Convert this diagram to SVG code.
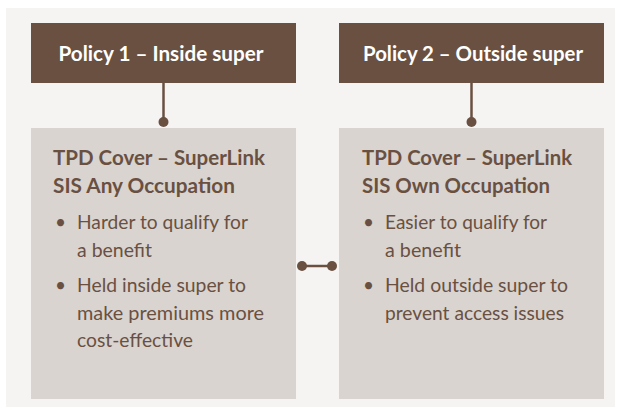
<svg xmlns="http://www.w3.org/2000/svg" width="621" height="408" viewBox="0 0 621 408">
<style>
.hdr{fill:#6a5041}
.box{fill:#d9d4d0}
.ht{font-family:Lato,"Open Sans",sans-serif;font-weight:bold;font-size:20px;fill:#ffffff;text-anchor:middle}
.tt{font-family:Lato,"Open Sans",sans-serif;font-weight:bold;font-size:20px;fill:#6a5041}
.bt{font-family:Lato,"Open Sans",sans-serif;font-size:19px;fill:#6a5041}
.con{stroke:#6a5041;stroke-width:2.5;fill:none}
.dot{fill:#6a5041}
</style>
<rect x="6" y="8" width="609" height="399" fill="#f5f4f2"/>
<g id="policy1">
<rect class="hdr" x="31" y="23" width="265" height="60"/>
<text class="ht" x="161" y="61" textLength="205" lengthAdjust="spacingAndGlyphs">Policy 1 – Inside super</text>
</g>
<g id="policy2">
<rect class="hdr" x="339" y="23" width="265" height="60"/>
<text class="ht" x="473" y="61" textLength="220" lengthAdjust="spacingAndGlyphs">Policy 2 – Outside super</text>
</g>
<g id="cover1">
<rect class="box" x="31" y="128" width="265" height="271"/>
<text class="tt" x="53" y="165" textLength="212" lengthAdjust="spacingAndGlyphs">TPD Cover – SuperLink</text>
<text class="tt" x="53" y="193" textLength="182" lengthAdjust="spacingAndGlyphs">SIS Any Occupation</text>
<text class="bt" x="55" y="229">•</text>
<text class="bt" x="77" y="229" textLength="171" lengthAdjust="spacingAndGlyphs">Harder to qualify for</text>
<text class="bt" x="77" y="256.5" textLength="75" lengthAdjust="spacingAndGlyphs">a benefit</text>
<text class="bt" x="55" y="292">•</text>
<text class="bt" x="77" y="292" textLength="169" lengthAdjust="spacingAndGlyphs">Held inside super to</text>
<text class="bt" x="77" y="320" textLength="187" lengthAdjust="spacingAndGlyphs">make premiums more</text>
<text class="bt" x="77" y="347" textLength="116" lengthAdjust="spacingAndGlyphs">cost-effective</text>
</g>
<g id="cover2">
<rect class="box" x="339" y="128" width="265" height="271"/>
<text class="tt" x="362" y="165" textLength="210" lengthAdjust="spacingAndGlyphs">TPD Cover – SuperLink</text>
<text class="tt" x="362" y="193" textLength="188" lengthAdjust="spacingAndGlyphs">SIS Own Occupation</text>
<text class="bt" x="363" y="229">•</text>
<text class="bt" x="385" y="229" textLength="162" lengthAdjust="spacingAndGlyphs">Easier to qualify for</text>
<text class="bt" x="385" y="256.5" textLength="76" lengthAdjust="spacingAndGlyphs">a benefit</text>
<text class="bt" x="363" y="292">•</text>
<text class="bt" x="385" y="292" textLength="183" lengthAdjust="spacingAndGlyphs">Held outside super to</text>
<text class="bt" x="385" y="320" textLength="179" lengthAdjust="spacingAndGlyphs">prevent access issues</text>
</g>
<g id="connectors">
<line class="con" x1="163.5" y1="83" x2="163.5" y2="122"/>
<circle class="dot" cx="163.5" cy="122" r="5"/>
<line class="con" x1="471.5" y1="83" x2="471.5" y2="122"/>
<circle class="dot" cx="471.5" cy="122" r="5"/>
<line class="con" x1="302" y1="266" x2="332" y2="266"/>
<circle class="dot" cx="302" cy="266" r="5"/>
<circle class="dot" cx="332" cy="266" r="5"/>
</g>
</svg>
